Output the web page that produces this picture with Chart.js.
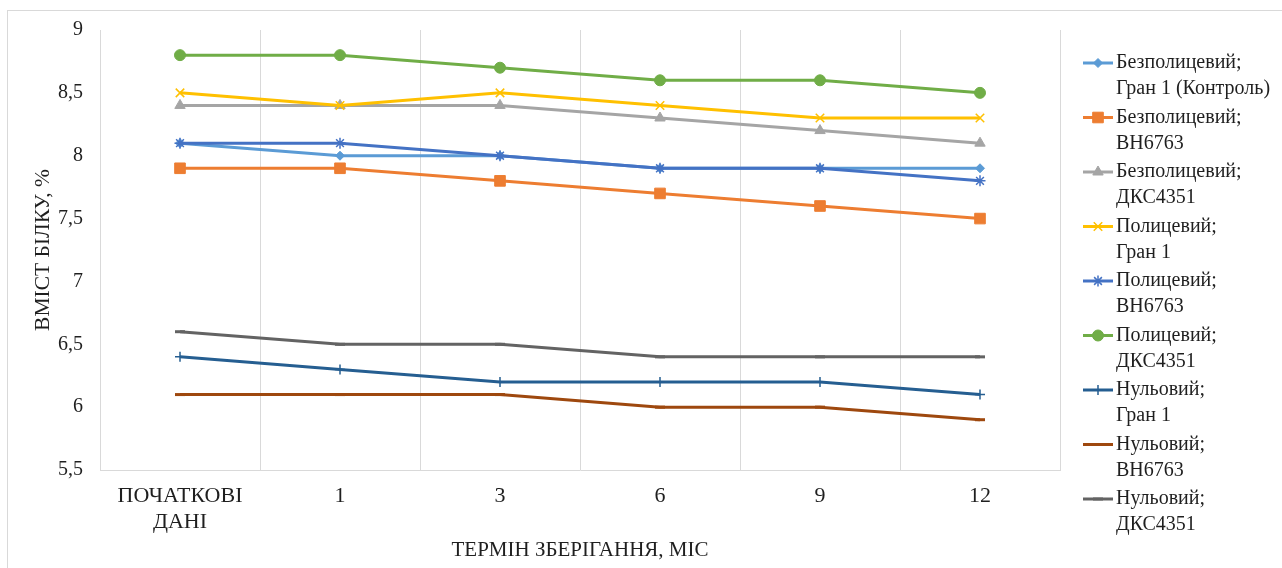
<!DOCTYPE html>
<html>
<head>
<meta charset="utf-8">
<script src="https://cdn.jsdelivr.net/npm/chart.js@4.4.0/dist/chart.umd.min.js"></script>
<style>
    html, body { margin: 0; padding: 0; background: #fff; }
    #contenedor { width: 1282px; height: 568px; }
</style>
</head>
<body>
<div id="contenedor"><canvas id="chartBilok"></canvas></div>
<script>
// categories (storage term, months)
const termini = [['ПОЧАТКОВІ', 'ДАНІ'], '1', '3', '6', '9', '12']
const yTicks = [5.5, 6, 6.5, 7, 7.5, 8, 8.5, 9]

// series names (two legend lines each)
const nazvy = [
    ['Безполицевий;', 'Гран 1 (Контроль)'],
    ['Безполицевий;', 'ВН6763'],
    ['Безполицевий;', 'ДКС4351'],
    ['Полицевий;', 'Гран 1'],
    ['Полицевий;', 'ВН6763'],
    ['Полицевий;', 'ДКС4351'],
    ['Нульовий;', 'Гран 1'],
    ['Нульовий;', 'ВН6763'],
    ['Нульовий;', 'ДКС4351']
]

// protein content, %
const bezpolGran = [8.1, 8.0, 8.0, 7.9, 7.9, 7.9]
const bezpolBN = [7.9, 7.9, 7.8, 7.7, 7.6, 7.5]
const bezpolDKS = [8.4, 8.4, 8.4, 8.3, 8.2, 8.1]
const polGran = [8.5, 8.4, 8.5, 8.4, 8.3, 8.3]
const polBN = [8.1, 8.1, 8.0, 7.9, 7.9, 7.8]
const polDKS = [8.8, 8.8, 8.7, 8.6, 8.6, 8.5]
const nulGran = [6.4, 6.3, 6.2, 6.2, 6.2, 6.1]
const nulBN = [6.1, 6.1, 6.1, 6.0, 6.0, 5.9]
const nulDKS = [6.6, 6.5, 6.5, 6.4, 6.4, 6.4]

const valores = [bezpolGran, bezpolBN, bezpolDKS, polGran, polBN, polDKS, nulGran, nulBN, nulDKS]

const estilos = [
    { color: '#5B9BD5', punto: 'rectRot', radio: 4.5, borde: 1 },
    { color: '#ED7D31', punto: 'rect', radio: 7.5, borde: 1 },
    { color: '#A5A5A5', punto: 'triangle', radio: 6, borde: 1 },
    { color: '#FFC000', punto: 'crossRot', radio: 6, borde: 1.5 },
    { color: '#4472C4', punto: 'star', radio: 5.5, borde: 1.5 },
    { color: '#70AD47', punto: 'circle', radio: 5.5, borde: 1 },
    { color: '#255E91', punto: 'cross', radio: 5, borde: 1.5 },
    { color: '#9E480E', punto: 'line', radio: 5, borde: 3 },
    { color: '#636363', punto: 'line', radio: 5, borde: 3 }
]

const fuente = 'Liberation Serif'
const colorTexto = '#1f1f1f'

const datasets = valores.map((serie, i) => ({
    label: nazvy[i].join(' '),
    data: serie,
    borderColor: estilos[i].color,
    backgroundColor: estilos[i].color,
    borderWidth: 3,
    pointStyle: estilos[i].punto,
    pointRadius: estilos[i].radio,
    pointBorderWidth: estilos[i].borde,
    pointBackgroundColor: estilos[i].color,
    pointBorderColor: estilos[i].color,
    tension: 0,
    order: valores.length - i
}))

const marco = {
    id: 'marco',
    beforeDraw(chart) {
        const ctx = chart.ctx
        ctx.save()
        ctx.strokeStyle = '#d9d9d9'
        ctx.lineWidth = 1
        ctx.strokeRect(7.5, 10.5, 1300, 600)
        ctx.restore()
    }
}

const leyenda = {
    id: 'leyenda',
    afterDraw(chart) {
        const ctx = chart.ctx
        ctx.save()
        chart.data.datasets.forEach((ds, i) => {
            const y = 63 + i * 54.5
            ctx.strokeStyle = ds.borderColor
            ctx.lineWidth = 3
            ctx.beginPath()
            ctx.moveTo(1083, y)
            ctx.lineTo(1113, y)
            ctx.stroke()

            ctx.fillStyle = ds.pointBackgroundColor
            ctx.strokeStyle = ds.pointBorderColor
            ctx.lineWidth = ds.pointBorderWidth
            Chart.helpers.drawPoint(ctx, {
                pointStyle: ds.pointStyle,
                radius: ds.pointRadius,
                borderWidth: ds.pointBorderWidth,
                rotation: 0
            }, 1098, y)

            ctx.fillStyle = colorTexto
            ctx.font = `20px "${fuente}"`
            ctx.textBaseline = 'middle'
            ctx.textAlign = 'left'
            ctx.fillText(nazvy[i][0], 1116, y)
            ctx.fillText(nazvy[i][1], 1116, y + 26)
        })
        ctx.restore()
    }
}

Chart.defaults.font.family = fuente
Chart.defaults.color = colorTexto

const chartBilok = new Chart(document.getElementById('chartBilok'), {
    type: 'line',
    data: {
        labels: termini,
        datasets: datasets
    },
    options: {
        responsive: true,
        maintainAspectRatio: false,
        animation: false,
        layout: {
            padding: { left: 8, top: 30, right: 222, bottom: 0 }
        },
        plugins: {
            legend: { display: false },
            tooltip: { enabled: false }
        },
        scales: {
            x: {
                offset: true,
                grid: {
                    offset: true,
                    color: '#d9d9d9',
                    drawTicks: false
                },
                border: { color: '#d9d9d9', width: 1 },
                ticks: {
                    font: { size: 22, lineHeight: 1.15 },
                    padding: 14,
                    maxRotation: 0,
                    autoSkip: false
                },
                title: {
                    display: true,
                    text: 'ТЕРМІН ЗБЕРІГАННЯ, МІС',
                    font: { size: 21 },
                    padding: { top: 0, bottom: 5 }
                },
                afterFit: s => { s.height = 98 }
            },
            y: {
                min: 5.5,
                max: 9,
                grid: { display: false },
                border: { display: false },
                afterBuildTicks: s => { s.ticks = yTicks.map(v => ({ value: v })) },
                ticks: {
                    font: { size: 20 },
                    padding: 9,
                    callback: v => String(v).replace('.', ',')
                },
                title: {
                    display: true,
                    text: 'ВМІСТ БІЛКУ, %',
                    font: { size: 21.5 },
                    padding: { top: 22, bottom: 0 }
                },
                afterFit: s => { s.width = 92 }
            }
        }
    },
    plugins: [marco, leyenda]
})
</script>
</body>
</html>
